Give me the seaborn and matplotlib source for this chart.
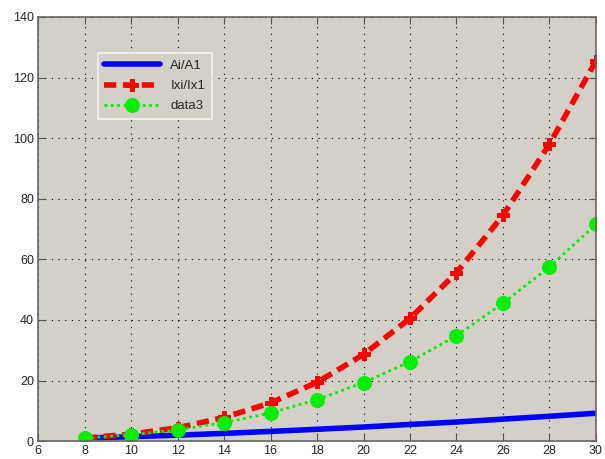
import matplotlib
matplotlib.use("Agg")
import matplotlib.pyplot as plt
import pandas as pd
import seaborn as sns

x_vals = [8, 10, 12, 14, 16, 18, 20, 22, 24, 26, 28, 30]
ai_a1 = [1, 1.45, 1.95, 2.55, 3.2, 3.9, 4.65, 5.5, 6.3, 7.25, 8.2, 9.2]
ixi_ix1 = [1, 2.3, 4.4, 7.8, 12.6, 19.4, 28.6, 40.5, 55.6, 74.5, 98, 125.5]
data3 = [1, 2.1, 3.7, 6.1, 9.3, 13.7, 19.3, 26.2, 34.8, 45.5, 57.5, 71.5]

df = pd.DataFrame({"x": x_vals, "Ai/A1": ai_a1, "Ixi/Ix1": ixi_ix1, "data3": data3})

sns.set_style("ticks")
plt.rcParams["font.family"] = ["Liberation Sans", "DejaVu Sans"]

fig = plt.figure(figsize=(6.05, 4.59), dpi=100)
ax = fig.add_axes([0.063, 0.039, 0.922, 0.924])
ax.set_facecolor("#d4d0c8")

sns.lineplot(data=df, x="x", y="Ai/A1", ax=ax, color="#0000ff", lw=4, label="Ai/A1")
sns.lineplot(data=df, x="x", y="Ixi/Ix1", ax=ax, color="#ff0000", lw=4,
             linestyle=(0, (2.2, 1.2)), marker="P", markersize=8,
             markeredgecolor="#ff0000", label="Ixi/Ix1")
sns.lineplot(data=df, x="x", y="data3", ax=ax, color="#00ee00", lw=2,
             linestyle=(0, (1, 1.3)), marker="o", markersize=10,
             markeredgecolor="#00ee00", label="data3")

ax.set_xlim(6, 30)
ax.set_ylim(0, 140)
ax.set_xticks(range(6, 31, 2))
ax.set_yticks(range(0, 141, 20))
ax.set_xlabel("")
ax.set_ylabel("")
ax.grid(True, color="black", linestyle=(0, (1, 5)), linewidth=0.8)
ax.tick_params(direction="in", top=True, right=True, length=5,
               labelsize=9, color="#555555", pad=3)
for side in ax.spines.values():
    side.set_color("#666666")
    side.set_linewidth(1.2)

leg = ax.legend(loc="upper left", bbox_to_anchor=(0.095, 0.93), fontsize=9.5,
                frameon=True, fancybox=False, handlelength=4.2,
                borderpad=0.5, labelspacing=0.6)
leg.get_frame().set_facecolor("#d4d0c8")
leg.get_frame().set_edgecolor("#f4f4f4")
leg.get_frame().set_linewidth(1.2)
leg.get_frame().set_alpha(1)

fig.savefig("out.png", dpi=100, facecolor="white")
